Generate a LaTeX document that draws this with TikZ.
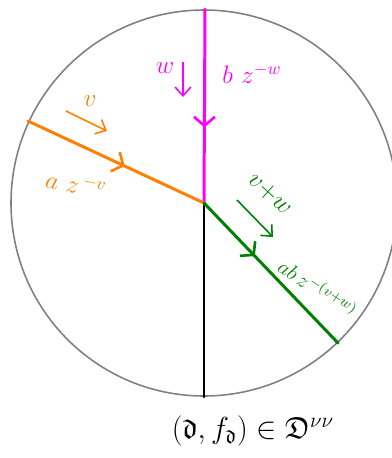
\documentclass[tikz,border=0pt]{standalone}
\usepackage{amsmath,amssymb}
\usetikzlibrary{arrows.meta, decorations.markings}
\definecolor{rimgray}{RGB}{128, 128, 128}
\definecolor{legorange}{RGB}{255, 128, 0}
\definecolor{legmagenta}{RGB}{255, 0, 255}
\definecolor{leggreen}{RGB}{0, 128, 0}
\tikzstyle{rim} = [draw=rimgray, line width=0.9pt]
\tikzstyle{leg} = [line width=1.7pt, line cap=round]
\tikzstyle{midarrow} = [postaction={decorate}, decoration={markings,
                        mark=at position #1 with {\arrow{Straight Barb[length=5pt, width=12pt, line width=1.5pt]}}}]
\tikzstyle{flow} = [-{Straight Barb[length=5pt, width=9pt]}, line width=0.9pt]
\tikzstyle{weight} = [font=\Large, inner sep=1pt]

\begin{document}
\begin{tikzpicture}[x=0.02cm, y=-0.02cm]
\useasboundingbox (0, 0) rectangle (392, 458);

% Points
\coordinate (o) at (204, 203);
\coordinate (top) at (205, 9);
\coordinate (bot) at (204, 397);
\coordinate (west) at (28, 121);
\coordinate (se) at (338, 343);

% Disk
\draw[rim] (o) circle (193);

% Legs
\draw[leg] (o) -- (bot);
\draw[leg, legmagenta, midarrow=0.61] (top) -- (o);
\draw[leg, legorange, midarrow=0.55] (west) -- (o);
\draw[leg, leggreen, midarrow=0.38] (o) -- (se);

% Direction arrows
\coordinate (w0) at (183, 62);
\coordinate (w1) at (183, 97);
\coordinate (v0) at (66, 111);
\coordinate (v1) at (107, 131);
\coordinate (vw0) at (237, 200);
\coordinate (vw1) at (273, 237);
\draw[flow, legmagenta] (w0) -- (w1);
\draw[flow, legorange] (v0) -- (v1);
\draw[flow, leggreen] (vw0) -- (vw1);

% Labels
\node[weight, legmagenta] (lw) at (165, 68) {$w$};
\node[weight, legmagenta] (lbw) at (252, 74) {$b\ z^{-w}$};
\node[weight, legorange] (lv) at (90, 101) {$v$};
\node[weight, legorange, rotate=-12] (lav) at (76, 184) {$a\ z^{\,-v}$};
\node[weight, leggreen, rotate=-42] (lvw) at (270, 194) {$v{+}w$};
\node[weight, leggreen, rotate=-34, font=\large] (labvw) at (318, 288) {$ab\,z^{-(v+w)}$};

% Bottom caption
\node[font=\LARGE] (cap) at (253, 431) {$(\mathfrak{d}, f_{\mathfrak{d}}) \in \mathfrak{D}^{\nu\nu}$};

\end{tikzpicture}
\end{document}
